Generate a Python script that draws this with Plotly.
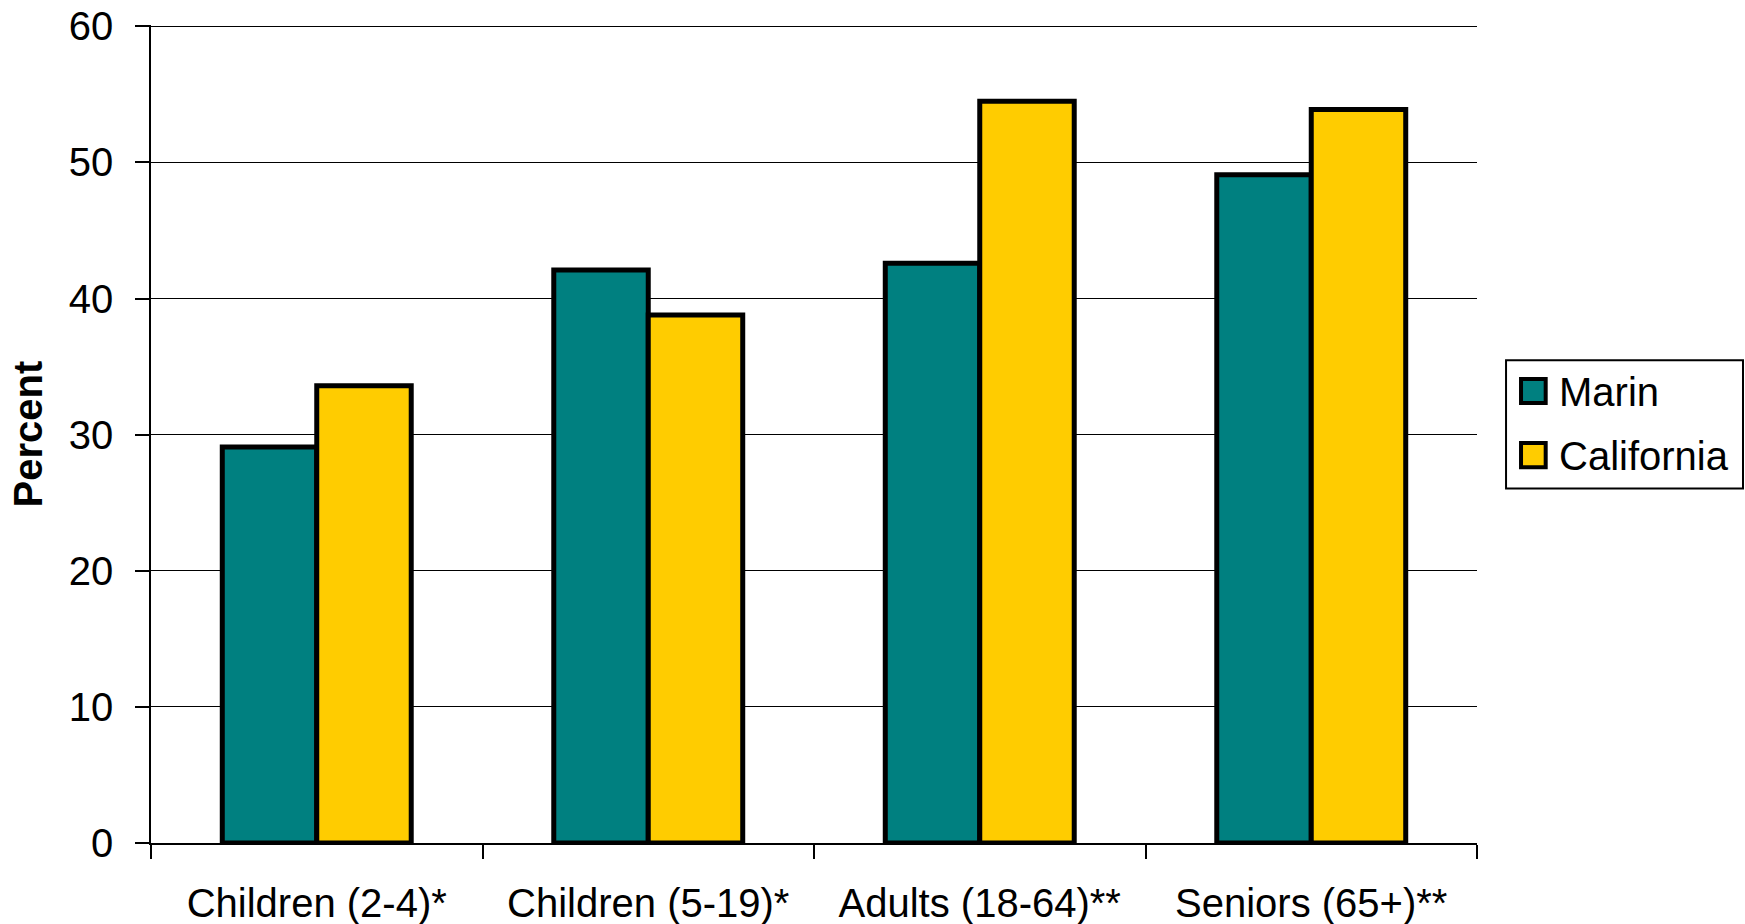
import plotly.graph_objects as go

categories = ["Children (2-4)*", "Children (5-19)*", "Adults (18-64)**", "Seniors (65+)**"]
marin = [29.1, 42.1, 42.6, 49.1]
california = [33.6, 38.8, 54.5, 53.9]
y_ticks = [0, 10, 20, 30, 40, 50, 60]

TEAL = "#008080"
GOLD = "#FFCC00"
FONT = "Liberation Sans, Arial, sans-serif"

fig = go.Figure()
fig.add_trace(go.Bar(name="Marin", x=categories, y=marin,
                     marker=dict(color=TEAL, line=dict(color="black", width=5)),
                     showlegend=False))
fig.add_trace(go.Bar(name="California", x=categories, y=california,
                     marker=dict(color=GOLD, line=dict(color="black", width=5)),
                     showlegend=False))

# legend drawn by hand so the swatches can be as large as the original
legend_items = [("Marin", TEAL, 0.5378, 0.5671, 0.5509),
                ("California", GOLD, 0.4592, 0.4889, 0.4730)]
fig.add_shape(type="rect", xref="paper", yref="paper",
              x0=1.0219, x1=1.2006, y0=0.4335, y1=0.5903,
              line=dict(color="black", width=2), fillcolor="white")
for label, color, y0, y1, ytext in legend_items:
    fig.add_shape(type="rect", xref="paper", yref="paper",
                  x0=1.0332, x1=1.0518, y0=y0, y1=y1,
                  line=dict(color="black", width=4), fillcolor=color)
    fig.add_annotation(text=label, xref="paper", yref="paper", x=1.0603, y=ytext,
                       xanchor="left", yanchor="middle", showarrow=False,
                       font=dict(size=40, color="black", family=FONT))

fig.update_layout(
    width=1745, height=924,
    barmode="group", bargap=0.43, bargroupgap=0,
    plot_bgcolor="white", paper_bgcolor="white",
    margin=dict(l=151, r=268, t=25, b=81),
    font=dict(family=FONT, size=40, color="black"),
)
fig.update_xaxes(
    showline=True, linecolor="black", linewidth=1.5,
    ticks="outside", tickson="boundaries", ticklen=14, tickwidth=1.5, tickcolor="black",
    ticklabelstandoff=24,
    showgrid=False, automargin=False,
)
fig.update_yaxes(
    range=[0, 60.1], tickvals=y_ticks,
    showline=True, linecolor="black", linewidth=1.5,
    ticks="outside", ticklen=14, tickwidth=1.5, tickcolor="black",
    ticklabelstandoff=14, ticklabeloverflow="allow",
    showgrid=True, gridcolor="black", gridwidth=1.3, zeroline=False,
    title=dict(text="<b>Percent</b>", standoff=14, font=dict(size=40)),
    automargin=False,
)

# drop the default 8px body margin so the figure sits flush in the window
fig.write_html("out.html", config={"displayModeBar": False},
               post_script="document.body.style.margin = '0';")
